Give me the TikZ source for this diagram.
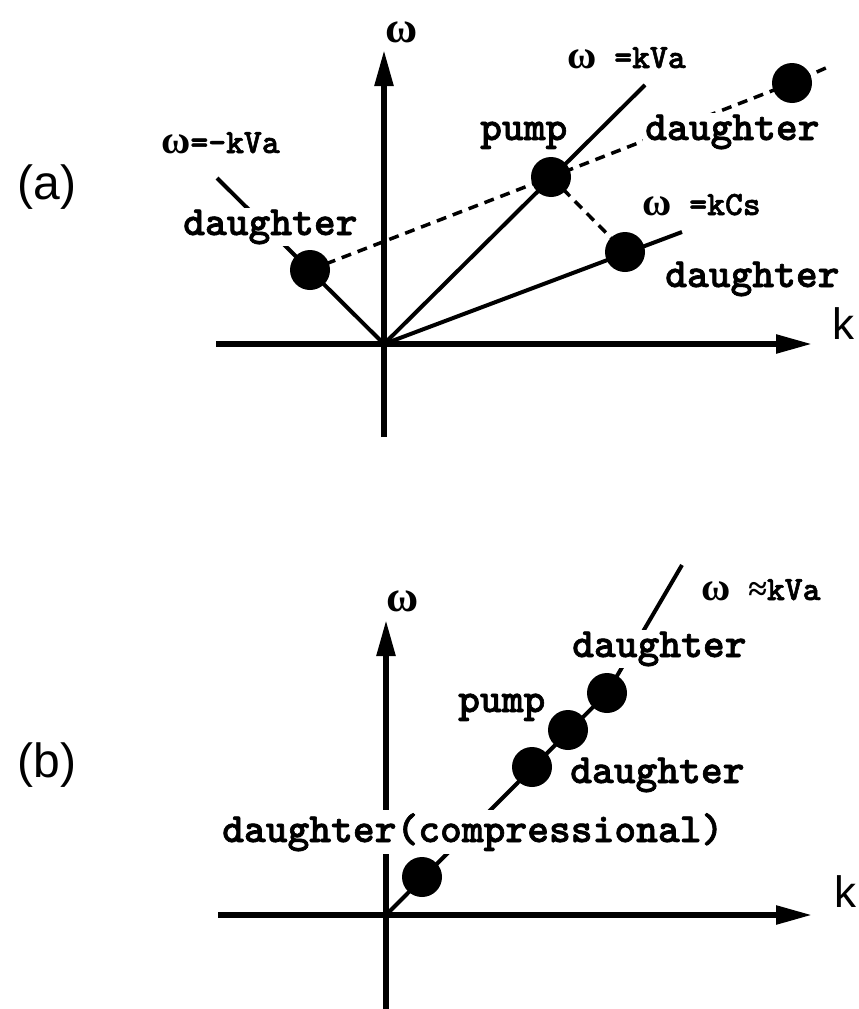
\documentclass[tikz,border=0pt]{standalone}
\usepackage{fontspec}
\setsansfont{Liberation Sans}
\newfontfamily\lblfont{lmmonolt10-bold}[Extension=.otf,FakeBold=1.6]
\newfontfamily\gkfont{Liberation Serif}
\usetikzlibrary{arrows.meta}
\newcommand{\om}{{\gkfont\bfseries\fontsize{40}{40}\selectfont ω}}
\newcommand{\apx}{{\gkfont\bfseries ≈}}
\begin{document}
\begin{tikzpicture}[x=1pt,y=-1pt,
  axisline/.style={line width=5.5pt,-{Triangle[length=36pt,width=18pt]}},
  disp/.style={line width=4pt},
  dsh/.style={line width=3.5pt,dash pattern=on 10pt off 7pt},
  ball/.style={circle,fill=black,minimum size=40pt,inner sep=0pt},
  lbl/.style={font=\fontsize{41.5}{41.5}\selectfont\lblfont,inner sep=2pt,fill=white,anchor=base west},
  eqn/.style={font=\fontsize{34}{34}\selectfont\lblfont,inner sep=1pt,anchor=base west},
  axlbl/.style={font=\fontsize{44}{44}\selectfont\sffamily,inner sep=0pt},
  omlbl/.style={font=\fontsize{44}{44}\selectfont\gkfont\bfseries,inner sep=0pt},
  panel/.style={font=\fontsize{48}{48}\selectfont\sffamily,inner sep=0pt},
]
\useasboundingbox (0,0) rectangle (859,1009);
% ---------------- panel (a)
\coordinate (Oa) at (384,344);
\coordinate (xaL) at (216,344);
\coordinate (xaR) at (812,344);
\coordinate (yaB) at (384,437);
\coordinate (yaT) at (384,50);
\coordinate (vaEnd) at (645,85);
\coordinate (csEnd) at (682,232);
\coordinate (mvaEnd) at (217,178);
\coordinate (dshEnd) at (828,67);
\node[ball] (dL) at (310,270) {};
\node[ball] (pa) at (551,177) {};
\node[ball] (dR) at (625,252) {};
\node[ball] (dT) at (792,83) {};
\draw[axisline] (xaL) -- (xaR);
\draw[axisline] (yaB) -- (yaT);
\draw[disp] (Oa) -- (vaEnd);
\draw[disp] (Oa) -- (csEnd);
\draw[disp] (Oa) -- (mvaEnd);
\draw[dsh] (dL.center) -- (pa.center) -- (dT.center) -- (dshEnd);
\draw[dsh] (pa.center) -- (dR.center);
\node[eqn] (eqMVa) at (160,153) {\om=-kVa};
\node[lbl] (dLl) at (181,235) {daughter};
\node[lbl] (pumpa) at (478,140) {pump};
\node[eqn] (eqVa) at (566,68) {\om\ =kVa};
\node[lbl] (dTl) at (643,140) {daughter};
\node[eqn] (eqCs) at (641,215) {\om\ =kCs};
\node[lbl] (dRl) at (663,287) {daughter};
\node[omlbl] (wa) at (402,32) {ω};
\node[axlbl] (ka) at (843,324) {k};
\node[panel] (plA) at (47,187) {(a)};
% ---------------- panel (b)
\coordinate (Ob) at (386,915);
\coordinate (xbL) at (218,915);
\coordinate (xbR) at (812,915);
\coordinate (ybB) at (386,1012);
\coordinate (ybT) at (386,620);
\coordinate (vbEnd) at (682,565);
\node[ball] (bc) at (422,877) {};
\node[ball] (bl) at (532,767) {};
\node[ball] (bp) at (568,730) {};
\node[ball] (bt) at (607,693) {};
\draw[axisline] (xbL) -- (xbR);
\draw[axisline] (ybB) -- (ybT);
\draw[disp] (Ob) -- (bt.center) -- (vbEnd);
\node[lbl] (btl) at (570,657) {daughter};
\node[lbl] (bpl) at (456,712) {pump};
\node[lbl] (bll) at (568,783) {daughter};
\node[lbl,inner sep=3pt] (bcl) at (219,842) {daughter(compressional)};
\node[eqn] (eqVb) at (700,600) {\om\ \apx kVa};
\node[omlbl] (wb) at (403,601) {ω};
\node[axlbl] (kb) at (845,892) {k};
\node[panel] (plB) at (47,765) {(b)};
\end{tikzpicture}
\end{document}
